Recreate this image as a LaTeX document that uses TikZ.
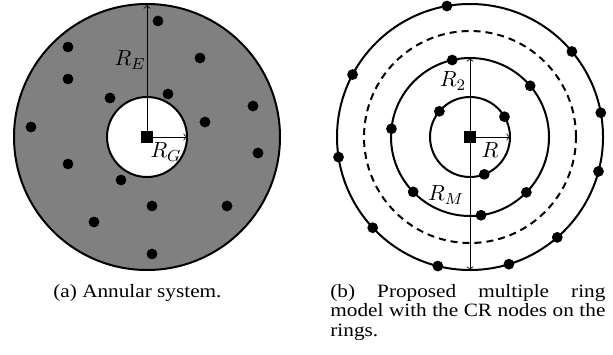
\documentclass[tikz,border=0pt]{standalone}
\usepackage{fontspec}
\setmainfont{Liberation Serif}
\newfontfamily\capfont[FakeStretch=1.13]{Liberation Serif}
\usetikzlibrary{calc}
\begin{document}
\begin{tikzpicture}[x=0.5pt,y=0.5pt,
  ring/.style={line width=1pt},
  dashring/.style={line width=1pt,dash pattern=on 3.5pt off 2.5pt},
  dot/.style={circle,fill=black,inner sep=0pt,minimum size=5.4pt},
  bs/.style={fill=black,inner sep=0pt,minimum size=5.6pt},
  radarrow/.style={->,line width=0.4pt},
  lbl/.style={font=\fontsize{11}{13}\selectfont,inner sep=0pt},
  captext/.style={font=\capfont\fontsize{9.4}{9.75}\selectfont,inner sep=0pt}]
\useasboundingbox (0,0) rectangle (613,354);
% (a) annular system
\coordinate (cA) at (147,217);
\draw[ring,fill=gray] (cA) circle[radius=66.5pt];
\draw[ring,fill=white] (cA) circle[radius=20pt];
\coordinate (eA) at (147,349);
\coordinate (gA) at (187,217);
\draw[radarrow] (cA) -- (eA);
\draw[radarrow] (cA) -- (gA);
\node[bs] (bsA) at (cA) {};
\foreach \x/\y [count=\i] in {158/333,68/307,200/296,68/275,110/256,168/260,253/248,31/227,205/232,258/201,68/190,121/174,152/148,227/148,94/132,152/100}
  \node[dot] (a\i) at (\x,\y) {};
\node[lbl] (lRE) at (130,294) {$R_E$};
\node[lbl] (lRG) at (166,202) {$R_G$};
% (b) multiple ring model
\coordinate (cB) at (470,217);
\draw[ring] (cB) circle[radius=66.5pt];
\draw[dashring] (cB) circle[radius=53pt];
\draw[ring] (cB) circle[radius=39.5pt];
\draw[ring] (cB) circle[radius=20pt];
\coordinate (r2B) at ($(cB)+(0,79)$);
\coordinate (rmB) at ($(cB)+(0,-133)$);
\coordinate (rB) at ($(cB)+(40,0)$);
\draw[radarrow] (cB) -- (r2B);
\draw[radarrow] (cB) -- (rmB);
\draw[radarrow] (cB) -- (rB);
\node[bs] (bsB) at (cB) {};
\foreach \a [count=\i] in {100,40,152,10.5,188.7,-15,223,-49,256,-73}
  \node[dot] (o\i) at ($(cB)+(\a:133)$) {};
\foreach \a [count=\i] in {103,40.4,174,224,-44.5,-82}
  \node[dot] (m\i) at ($(cB)+(\a:79)$) {};
\foreach \a [count=\i] in {140,30.5,-69}
  \node[dot] (n\i) at ($(cB)+(\a:40)$) {};
\node[lbl] (lR2) at (453,273) {$R_2$};
\node[lbl] (lR) at (490,204) {$R$};
\node[lbl] (lRM) at (446,159) {$R_M$};
% captions
\node[captext,anchor=base west] (capA) at (53,57) {(a) Annular system.};
\node[captext,anchor=north west,align=left] (capB) at (330,70)
  {\makebox[137.5pt][s]{(b) Proposed multiple ring}\\
   \makebox[137.5pt][s]{model with the CR nodes on the}\\
   rings.};
\end{tikzpicture}
\end{document}
